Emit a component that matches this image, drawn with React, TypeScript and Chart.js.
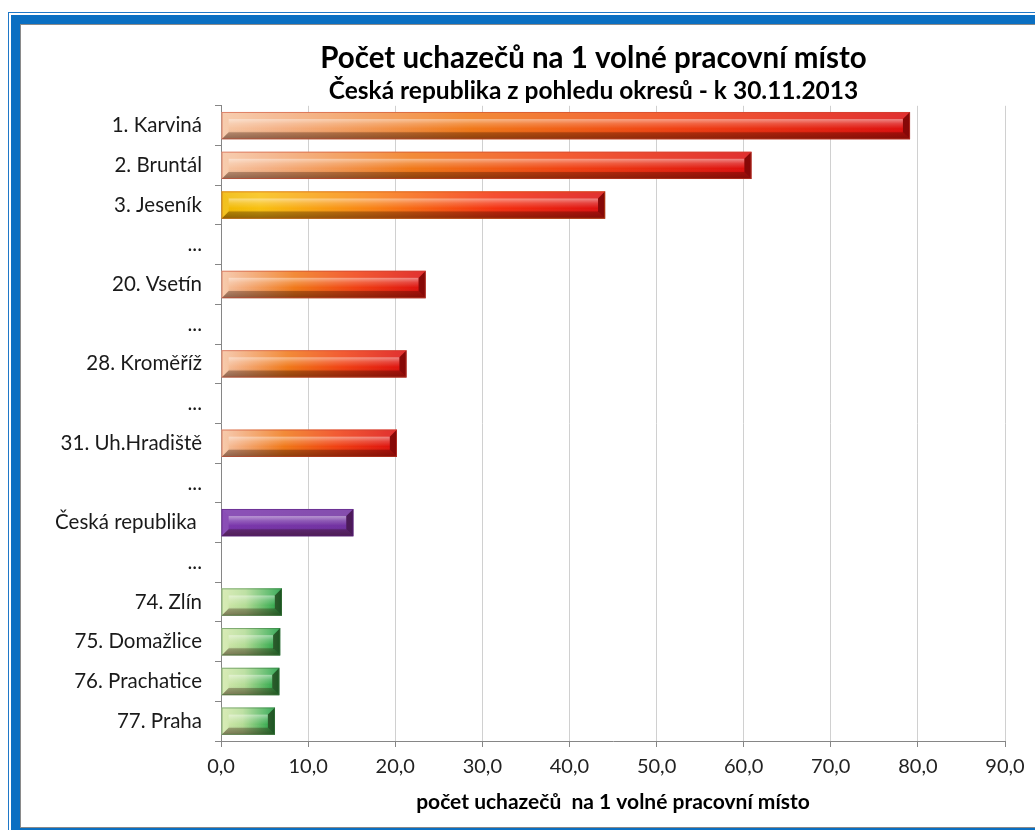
import React, { useEffect, useRef } from "react";
import { Chart, registerables } from "chart.js";

Chart.register(...registerables);

const categories = [
  "1. Karviná",
  "2. Bruntál",
  "3. Jeseník",
  "...",
  "20. Vsetín",
  "...",
  "28. Kroměříž",
  "...",
  "31. Uh.Hradiště",
  "...",
  "Česká republika ",
  "...",
  "74. Zlín",
  "75. Domažlice",
  "76. Prachatice",
  "77. Praha",
];

const values: (number | null)[] = [
  79.1, 60.9, 44.1, null, 23.5, null, 21.3, null, 20.2, null, 15.2, null, 7.0, 6.8, 6.7, 6.2,
];

const groups: (string | null)[] = [
  "red", "red", "yellow", null, "red", null, "red", null, "red", null, "purple", null,
  "green", "green", "green", "green",
];

const xTicksMin = 0;
const xTicksMax = 90;
const xTicksStep = 10;

const titleText = "Počet uchazečů na 1 volné pracovní místo";
const subtitleText = "Česká republika z pohledu okresů - k 30.11.2013";
const xTitleText = "počet uchazečů  na 1 volné pracovní místo";

const palettes: Record<string, [number, string][]> = {
  red: [
    [0, "#f6c6a4"],
    [0.08, "#f4b287"],
    [0.36, "#f07818"],
    [0.66, "#f04012"],
    [1, "#dc0e0e"],
  ],
  yellow: [
    [0, "#f0b800"],
    [0.1, "#f8c010"],
    [0.4, "#f88014"],
    [0.72, "#f43010"],
    [1, "#dc1010"],
  ],
  purple: [
    [0, "#7a36ac"],
    [1, "#7030a0"],
  ],
  green: [
    [0, "#d6eaae"],
    [0.4, "#b4dc96"],
    [0.8, "#4cb45c"],
    [1, "#1a9a40"],
  ],
};

const outlineColors: Record<string, string> = {
  red: "rgba(200,70,50,0.55)",
  yellow: "rgba(200,90,20,0.55)",
  purple: "rgba(90,30,130,0.6)",
  green: "rgba(60,120,60,0.55)",
};

const FONT = "Lato, 'Open Sans', sans-serif";

const bevelPlugin = {
  id: "bevel",
  afterDatasetsDraw(chart: any) {
    const ctx = chart.ctx as CanvasRenderingContext2D;
    const meta = chart.getDatasetMeta(0);
    meta.data.forEach((bar: any, i: number) => {
      if (values[i] == null) return;
      const p = bar.getProps(["x", "y", "base", "height"], true);
      const L = Math.min(p.base, p.x);
      const R = Math.max(p.base, p.x);
      const T = p.y - p.height / 2;
      const B = p.y + p.height / 2;
      const h = B - T;
      const b = Math.min(h * 0.26, (R - L) / 2);
      ctx.save();
      // face gloss
      const g = ctx.createLinearGradient(0, T + b, 0, B - b);
      g.addColorStop(0, "rgba(255,255,255,0.5)");
      g.addColorStop(0.35, "rgba(255,255,255,0.2)");
      g.addColorStop(0.75, "rgba(255,255,255,0)");
      g.addColorStop(1, "rgba(0,0,0,0.06)");
      ctx.fillStyle = g;
      ctx.fillRect(L + b, T + b, R - L - 2 * b, h - 2 * b);
      // top bevel
      ctx.beginPath();
      ctx.moveTo(L, T);
      ctx.lineTo(R, T);
      ctx.lineTo(R - b, T + b);
      ctx.lineTo(L + b, T + b);
      ctx.closePath();
      ctx.fillStyle = "rgba(255,255,255,0.14)";
      ctx.fill();
      // bottom bevel
      const gb = ctx.createLinearGradient(0, B - b, 0, B);
      gb.addColorStop(0, "rgba(40,10,0,0.32)");
      gb.addColorStop(1, "rgba(40,10,0,0.5)");
      ctx.beginPath();
      ctx.moveTo(L, B);
      ctx.lineTo(R, B);
      ctx.lineTo(R - b, B - b);
      ctx.lineTo(L + b, B - b);
      ctx.closePath();
      ctx.fillStyle = gb;
      ctx.fill();
      // right chamfer
      ctx.beginPath();
      ctx.moveTo(R, T);
      ctx.lineTo(R, B);
      ctx.lineTo(R - b, B - b);
      ctx.lineTo(R - b, T + b);
      ctx.closePath();
      ctx.fillStyle = "rgba(30,0,0,0.45)";
      ctx.fill();
      // left chamfer
      ctx.beginPath();
      ctx.moveTo(L, T);
      ctx.lineTo(L + b, T + b);
      ctx.lineTo(L + b, B - b);
      ctx.lineTo(L, B);
      ctx.closePath();
      ctx.fillStyle = "rgba(255,255,255,0.12)";
      ctx.fill();
      // outline
      ctx.strokeStyle = outlineColors[groups[i] as string] || "rgba(0,0,0,0.3)";
      ctx.lineWidth = 1;
      ctx.strokeRect(L + 0.5, T + 0.5, R - L - 1, h - 1);
      ctx.restore();
    });
  },
};

export default function App() {
  const canvasRef = useRef<HTMLCanvasElement | null>(null);

  useEffect(() => {
    if (!canvasRef.current) return;
    const chart = new Chart(canvasRef.current, {
      type: "bar",
      data: {
        labels: categories,
        datasets: [
          {
            data: values as any,
            barPercentage: 0.69,
            categoryPercentage: 1,
            borderWidth: 0,
            backgroundColor: (c: any) => {
              const i = c.dataIndex;
              const v = values[i];
              const grp = groups[i];
              if (v == null || grp == null) return "rgba(0,0,0,0)";
              const stops = palettes[grp];
              const xs = c.chart.scales?.x;
              if (!xs) return stops[stops.length - 1][1];
              const x0 = xs.getPixelForValue(0);
              const x1 = xs.getPixelForValue(v);
              if (!isFinite(x0) || !isFinite(x1) || x1 === x0) return stops[0][1];
              const g = c.chart.ctx.createLinearGradient(x0, 0, x1, 0);
              stops.forEach(([o, col]) => g.addColorStop(o, col));
              return g;
            },
          },
        ],
      },
      options: {
        indexAxis: "y",
        animation: false,
        responsive: true,
        maintainAspectRatio: false,
        events: [],
        layout: { padding: 0 },
        plugins: {
          legend: { display: false },
          tooltip: { enabled: false },
          title: {
            display: true,
            text: titleText,
            color: "#000",
            font: { family: FONT, size: 29.5, weight: "bold" },
            padding: { top: 16, bottom: 0 },
          },
          subtitle: {
            display: true,
            text: subtitleText,
            color: "#000",
            font: { family: FONT, size: 24.5, weight: "bold" },
            padding: { top: 0, bottom: 0 },
          },
        },
        scales: {
          x: {
            type: "linear",
            min: xTicksMin,
            max: xTicksMax,
            ticks: {
              stepSize: xTicksStep,
              color: "#222",
              font: { family: FONT, size: 20 },
              padding: 8,
              callback: (v: any) => Number(v).toFixed(1).replace(".", ","),
            },
            grid: { color: "#d0d0d0", tickColor: "#868686", tickLength: 6 },
            border: { color: "#868686" },
            title: {
              display: true,
              text: xTitleText,
              color: "#000",
              font: { family: FONT, size: 21, weight: "bold" },
              padding: { top: 6, bottom: 12 },
            },
            afterFit: (s: any) => {
              s.height = 86;
            },
          },
          y: {
            type: "category",
            offset: true,
            ticks: {
              color: "#1a1a1a",
              font: { family: FONT, size: 20.5 },
              padding: 13,
              autoSkip: false,
            },
            grid: { drawOnChartArea: false, tickColor: "#868686", tickLength: 6, offset: true },
            border: { color: "#868686" },
            afterFit: (s: any) => {
              s.width = 200;
            },
          },
          yR: {
            type: "linear",
            position: "right",
            display: true,
            grid: { display: false, drawTicks: false },
            ticks: { display: false },
            border: { display: false },
            afterFit: (s: any) => {
              s.width = 161;
            },
          },
        },
      } as any,
      plugins: [bevelPlugin],
    });
    return () => chart.destroy();
  }, []);

  return (
    <div
      style={{
        position: "fixed",
        left: 0,
        top: 0,
        width: 1035,
        height: 830,
        overflow: "hidden",
        background: "#fff",
      }}
    >
      <div
        style={{
          position: "absolute",
          left: 8,
          top: 12,
          width: 1300,
          height: 830,
          border: "1px solid #1f78c8",
          boxSizing: "border-box",
        }}
      />
      <div
        style={{
          position: "absolute",
          left: 11,
          top: 15,
          width: 1300,
          height: 822,
          border: "9px solid #0a6fc2",
          boxSizing: "border-box",
        }}
      />
      <div
        style={{
          position: "absolute",
          left: 20,
          top: 24,
          width: 1280,
          height: 804,
          border: "1px solid #8a8a8a",
          boxSizing: "border-box",
          background: "#fff",
        }}
      />
      <div style={{ position: "absolute", left: 21, top: 25, width: 1145, height: 802 }}>
        <canvas ref={canvasRef} />
      </div>
    </div>
  );
}
